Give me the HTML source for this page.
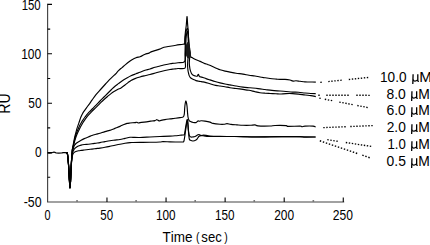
<!DOCTYPE html>
<html><head><meta charset="utf-8"><title>SPR sensorgram</title>
<style>
html,body{margin:0;padding:0;background:#fff;}
body{width:430px;height:245px;overflow:hidden;}
svg{display:block;}
text{font-kerning:none;}
</style></head><body>
<svg width="430" height="245" viewBox="0 0 430 245">
<rect width="430" height="245" fill="#fff"/>
<path d="M47.6,3.7 V202.4 M47.1,202 H344.2" stroke="#444" stroke-width="1.15" fill="none"/>
<path d="M47.6,177.30 H50.20 M47.6,152.60 H52.00 M47.6,127.90 H50.20 M47.6,103.20 H52.00 M47.6,78.50 H50.20 M47.6,53.80 H52.00 M47.6,29.10 H50.20 M47.6,4.40 H52.00 M106.97,202 V197.60 M166.05,202 V197.60 M225.12,202 V197.60 M284.20,202 V197.60 M343.27,202 V197.60" stroke="#000" stroke-width="1.1" fill="none"/>
<path d="M77.04,202 V200.00 M136.11,202 V200.00 M195.19,202 V200.00 M254.26,202 V200.00 M313.34,202 V200.00" stroke="#777" stroke-width="1.6" fill="none"/>
<path d="M47.50,153.00 C47.75,153.02 48.32,153.10 49.00,153.10 C49.68,153.10 50.93,153.13 51.60,153.00 C52.27,152.87 52.43,152.42 53.00,152.30 C53.57,152.18 54.42,152.18 55.00,152.30 C55.58,152.42 55.83,152.87 56.50,153.00 C57.17,153.13 58.18,153.10 59.00,153.10 C59.82,153.10 60.73,153.07 61.40,153.00 C62.07,152.93 62.40,152.75 63.00,152.70 C63.60,152.65 64.40,152.67 65.00,152.70 C65.60,152.73 66.20,152.75 66.60,152.90 C67.00,153.05 67.27,153.48 67.40,153.60" stroke="#000" stroke-width="1.2" fill="none" stroke-linejoin="round"/>
<path d="M66.60,152.90 C66.73,153.02 67.10,151.92 67.40,153.60 C67.70,155.28 68.07,158.60 68.40,163.00 C68.73,167.40 69.13,175.83 69.40,180.00 C69.67,184.17 69.80,188.00 70.00,188.00 C70.20,188.00 70.40,183.67 70.60,180.00 C70.80,176.33 71.00,170.00 71.20,166.00 C71.40,162.00 71.62,158.67 71.80,156.00 C71.98,153.33 72.07,151.83 72.30,150.00 C72.53,148.17 72.88,146.75 73.20,145.00 C73.52,143.25 73.82,141.33 74.20,139.50 C74.58,137.67 75.03,135.87 75.50,134.00 C75.97,132.13 76.43,130.15 77.00,128.30 C77.57,126.45 78.27,124.75 78.90,122.90 C79.53,121.05 80.18,118.78 80.80,117.20 C81.42,115.62 82.05,114.42 82.60,113.40 C83.15,112.38 83.55,111.90 84.10,111.10 C84.65,110.30 85.28,109.45 85.90,108.60 C86.52,107.75 87.20,106.80 87.80,106.00 C88.40,105.20 88.80,104.77 89.50,103.80 C90.20,102.83 90.92,101.73 92.00,100.20 C93.08,98.67 94.50,96.47 96.00,94.60 C97.50,92.73 99.42,90.77 101.00,89.00 C102.58,87.23 104.08,85.57 105.50,84.00 C106.92,82.43 108.25,80.88 109.50,79.60 C110.75,78.32 112.00,77.23 113.00,76.30 C114.00,75.37 114.58,74.95 115.50,74.00 C116.42,73.05 117.42,71.67 118.50,70.60 C119.58,69.53 120.83,68.60 122.00,67.60 C123.17,66.60 124.33,65.57 125.50,64.60 C126.67,63.63 127.92,62.62 129.00,61.80 C130.08,60.98 130.83,60.38 132.00,59.70 C133.17,59.02 134.67,58.20 136.00,57.70 C137.33,57.20 138.92,57.05 140.00,56.70 C141.08,56.35 141.63,56.02 142.50,55.60 C143.37,55.18 144.12,54.62 145.20,54.20 C146.28,53.78 147.92,53.53 149.00,53.10 C150.08,52.67 150.60,52.05 151.70,51.60 C152.80,51.15 154.30,50.82 155.60,50.40 C156.90,49.98 158.10,49.62 159.50,49.10 C160.90,48.58 162.25,47.78 164.00,47.30 C165.75,46.82 168.00,46.55 170.00,46.20 C172.00,45.85 173.83,45.53 176.00,45.20 C178.17,44.87 181.57,44.43 183.00,44.20 C184.43,43.97 184.30,44.75 184.60,43.80 C184.90,42.85 184.67,40.47 184.80,38.50 C184.93,36.53 185.15,34.25 185.40,32.00 C185.65,29.75 186.03,27.58 186.30,25.00 C186.57,22.42 186.78,16.67 187.00,16.50 C187.22,16.33 187.42,21.75 187.60,24.00 C187.78,26.25 187.97,28.00 188.10,30.00 C188.23,32.00 188.28,34.00 188.40,36.00 C188.52,38.00 188.62,39.67 188.80,42.00 C188.98,44.33 189.18,47.60 189.50,50.00 C189.82,52.40 190.28,55.13 190.70,56.40 C191.12,57.67 191.28,57.12 192.00,57.60 C192.72,58.08 193.67,58.67 195.00,59.30 C196.33,59.93 198.50,60.75 200.00,61.40 C201.50,62.05 202.67,62.65 204.00,63.20 C205.33,63.75 206.67,64.18 208.00,64.70 C209.33,65.22 210.62,65.72 212.00,66.30 C213.38,66.88 214.97,67.62 216.30,68.20 C217.63,68.78 218.55,69.32 220.00,69.80 C221.45,70.28 223.33,70.72 225.00,71.10 C226.67,71.48 228.17,71.75 230.00,72.10 C231.83,72.45 233.83,72.87 236.00,73.20 C238.17,73.53 240.83,73.77 243.00,74.10 C245.17,74.43 247.00,74.88 249.00,75.20 C251.00,75.52 253.17,75.70 255.00,76.00 C256.83,76.30 258.28,76.70 260.00,77.00 C261.72,77.30 263.63,77.55 265.30,77.80 C266.97,78.05 268.17,78.28 270.00,78.50 C271.83,78.72 274.63,78.95 276.30,79.10 C277.97,79.25 278.55,79.35 280.00,79.40 C281.45,79.45 283.33,79.30 285.00,79.40 C286.67,79.50 288.67,79.72 290.00,80.00 C291.33,80.28 292.00,80.97 293.00,81.10 C294.00,81.23 294.83,80.77 296.00,80.80 C297.17,80.83 298.50,81.12 300.00,81.30 C301.50,81.48 303.50,81.78 305.00,81.90 C306.50,82.02 307.20,81.97 309.00,82.00 C310.80,82.03 314.67,82.08 315.80,82.10" stroke="#000" stroke-width="1.15" fill="none" stroke-linejoin="round"/>
<path d="M66.60,152.90 C66.73,153.02 67.10,151.92 67.40,153.60 C67.70,155.28 68.07,158.60 68.40,163.00 C68.73,167.40 69.13,175.83 69.40,180.00 C69.67,184.17 69.80,188.00 70.00,188.00 C70.20,188.00 70.40,183.67 70.60,180.00 C70.80,176.33 71.00,170.00 71.20,166.00 C71.40,162.00 71.62,158.67 71.80,156.00 C71.98,153.33 72.03,151.83 72.30,150.00 C72.57,148.17 73.02,146.75 73.40,145.00 C73.78,143.25 74.17,141.25 74.60,139.50 C75.03,137.75 75.52,136.00 76.00,134.50 C76.48,133.00 77.05,131.63 77.50,130.50 C77.95,129.37 78.25,128.68 78.70,127.70 C79.15,126.72 79.73,125.52 80.20,124.60 C80.67,123.68 80.98,123.05 81.50,122.20 C82.02,121.35 82.72,120.37 83.30,119.50 C83.88,118.63 84.53,117.65 85.00,117.00 C85.47,116.35 85.60,116.22 86.10,115.60 C86.60,114.98 87.30,114.07 88.00,113.30 C88.70,112.53 89.52,111.80 90.30,111.00 C91.08,110.20 91.92,109.30 92.70,108.50 C93.48,107.70 94.20,107.02 95.00,106.20 C95.80,105.38 96.67,104.47 97.50,103.60 C98.33,102.73 98.92,102.10 100.00,101.00 C101.08,99.90 102.67,98.33 104.00,97.00 C105.33,95.67 106.75,94.25 108.00,93.00 C109.25,91.75 110.33,90.63 111.50,89.50 C112.67,88.37 113.83,87.18 115.00,86.20 C116.17,85.22 117.33,84.47 118.50,83.60 C119.67,82.73 120.75,81.85 122.00,81.00 C123.25,80.15 124.50,79.38 126.00,78.50 C127.50,77.62 129.33,76.48 131.00,75.70 C132.67,74.92 134.50,74.37 136.00,73.80 C137.50,73.23 138.50,72.88 140.00,72.30 C141.50,71.72 143.33,70.85 145.00,70.30 C146.67,69.75 148.33,69.52 150.00,69.00 C151.67,68.48 153.33,67.70 155.00,67.20 C156.67,66.70 158.33,66.42 160.00,66.00 C161.67,65.58 163.33,65.08 165.00,64.70 C166.67,64.32 168.50,63.93 170.00,63.70 C171.50,63.47 172.67,63.45 174.00,63.30 C175.33,63.15 176.23,63.08 178.00,62.80 C179.77,62.52 183.43,63.07 184.60,61.60 C185.77,60.13 184.90,56.77 185.00,54.00 C185.10,51.23 185.13,47.83 185.20,45.00 C185.27,42.17 185.23,39.33 185.40,37.00 C185.57,34.67 185.90,32.42 186.20,31.00 C186.50,29.58 186.90,28.67 187.20,28.50 C187.50,28.33 187.80,28.75 188.00,30.00 C188.20,31.25 188.25,33.67 188.40,36.00 C188.55,38.33 188.72,41.33 188.90,44.00 C189.08,46.67 189.38,49.67 189.50,52.00 C189.62,54.33 189.63,56.12 189.60,58.00 C189.57,59.88 189.27,61.63 189.30,63.30 C189.33,64.97 189.62,66.77 189.80,68.00 C189.98,69.23 190.13,69.83 190.40,70.70 C190.67,71.57 190.98,72.48 191.40,73.20 C191.82,73.92 192.30,74.55 192.90,75.00 C193.50,75.45 194.28,75.70 195.00,75.90 C195.72,76.10 196.65,76.47 197.20,76.20 C197.75,75.93 197.95,74.28 198.30,74.30 C198.65,74.32 198.93,75.87 199.30,76.30 C199.67,76.73 199.88,76.70 200.50,76.90 C201.12,77.10 202.08,77.22 203.00,77.50 C203.92,77.78 204.83,78.20 206.00,78.60 C207.17,79.00 208.50,79.42 210.00,79.90 C211.50,80.38 213.33,81.00 215.00,81.50 C216.67,82.00 218.33,82.48 220.00,82.90 C221.67,83.32 223.33,83.67 225.00,84.00 C226.67,84.33 228.17,84.57 230.00,84.90 C231.83,85.23 233.83,85.63 236.00,86.00 C238.17,86.37 240.67,86.80 243.00,87.10 C245.33,87.40 247.50,87.55 250.00,87.80 C252.50,88.05 255.50,88.32 258.00,88.60 C260.50,88.88 262.67,89.20 265.00,89.50 C267.33,89.80 269.50,90.15 272.00,90.40 C274.50,90.65 277.67,90.82 280.00,91.00 C282.33,91.18 283.90,91.32 286.00,91.50 C288.10,91.68 290.52,91.97 292.60,92.10 C294.68,92.23 296.43,92.15 298.50,92.30 C300.57,92.45 302.95,92.80 305.00,93.00 C307.05,93.20 309.00,93.38 310.80,93.50 C312.60,93.62 314.97,93.67 315.80,93.70" stroke="#000" stroke-width="1.15" fill="none" stroke-linejoin="round"/>
<path d="M66.60,152.90 C66.73,153.02 67.10,151.92 67.40,153.60 C67.70,155.28 68.07,158.60 68.40,163.00 C68.73,167.40 69.13,175.83 69.40,180.00 C69.67,184.17 69.80,188.00 70.00,188.00 C70.20,188.00 70.40,183.67 70.60,180.00 C70.80,176.33 71.00,170.00 71.20,166.00 C71.40,162.00 71.62,158.67 71.80,156.00 C71.98,153.33 72.00,151.83 72.30,150.00 C72.60,148.17 73.15,146.67 73.60,145.00 C74.05,143.33 74.52,141.58 75.00,140.00 C75.48,138.42 76.00,136.83 76.50,135.50 C77.00,134.17 77.50,133.08 78.00,132.00 C78.50,130.92 79.00,130.00 79.50,129.00 C80.00,128.00 80.47,127.00 81.00,126.00 C81.53,125.00 82.07,124.03 82.70,123.00 C83.33,121.97 83.97,120.98 84.80,119.80 C85.63,118.62 86.58,117.23 87.70,115.90 C88.82,114.57 90.23,113.10 91.50,111.80 C92.77,110.50 94.22,109.17 95.30,108.10 C96.38,107.03 97.13,106.27 98.00,105.40 C98.87,104.53 99.58,103.80 100.50,102.90 C101.42,102.00 102.33,101.07 103.50,100.00 C104.67,98.93 106.25,97.57 107.50,96.50 C108.75,95.43 109.83,94.47 111.00,93.60 C112.17,92.73 113.33,92.02 114.50,91.30 C115.67,90.58 116.92,89.87 118.00,89.30 C119.08,88.73 119.83,88.62 121.00,87.90 C122.17,87.18 123.83,85.88 125.00,85.00 C126.17,84.12 127.00,83.37 128.00,82.60 C129.00,81.83 129.83,81.07 131.00,80.40 C132.17,79.73 133.50,79.17 135.00,78.60 C136.50,78.03 138.33,77.48 140.00,77.00 C141.67,76.52 143.33,76.12 145.00,75.70 C146.67,75.28 148.00,75.03 150.00,74.50 C152.00,73.97 154.50,73.17 157.00,72.50 C159.50,71.83 162.83,71.00 165.00,70.50 C167.17,70.00 168.50,69.75 170.00,69.50 C171.50,69.25 172.67,69.17 174.00,69.00 C175.33,68.83 176.17,68.65 178.00,68.50 C179.83,68.35 183.78,69.18 185.00,68.10 C186.22,67.02 185.20,64.68 185.30,62.00 C185.40,59.32 185.52,55.00 185.60,52.00 C185.68,49.00 185.68,46.67 185.80,44.00 C185.92,41.33 186.07,38.08 186.30,36.00 C186.53,33.92 186.93,32.00 187.20,31.50 C187.47,31.00 187.73,31.58 187.90,33.00 C188.07,34.42 188.12,37.50 188.20,40.00 C188.28,42.50 188.40,45.33 188.40,48.00 C188.40,50.67 188.32,53.67 188.20,56.00 C188.08,58.33 187.80,60.33 187.70,62.00 C187.60,63.67 187.55,64.55 187.60,66.00 C187.65,67.45 187.83,69.45 188.00,70.70 C188.17,71.95 188.40,72.68 188.60,73.50 C188.80,74.32 188.93,74.95 189.20,75.60 C189.47,76.25 189.80,76.90 190.20,77.40 C190.60,77.90 191.05,78.23 191.60,78.60 C192.15,78.97 192.77,79.27 193.50,79.60 C194.23,79.93 195.17,80.33 196.00,80.60 C196.83,80.87 197.75,81.05 198.50,81.20 C199.25,81.35 199.75,81.38 200.50,81.50 C201.25,81.62 202.08,81.72 203.00,81.90 C203.92,82.08 204.83,82.30 206.00,82.60 C207.17,82.90 208.83,83.33 210.00,83.70 C211.17,84.07 212.00,84.52 213.00,84.80 C214.00,85.08 214.83,85.20 216.00,85.40 C217.17,85.60 218.50,85.77 220.00,86.00 C221.50,86.23 223.33,86.52 225.00,86.80 C226.67,87.08 228.17,87.42 230.00,87.70 C231.83,87.98 233.83,88.22 236.00,88.50 C238.17,88.78 240.83,89.10 243.00,89.40 C245.17,89.70 247.00,89.92 249.00,90.30 C251.00,90.68 253.17,91.30 255.00,91.70 C256.83,92.10 258.33,92.45 260.00,92.70 C261.67,92.95 263.33,93.07 265.00,93.20 C266.67,93.33 268.17,93.40 270.00,93.50 C271.83,93.60 274.33,93.72 276.00,93.80 C277.67,93.88 278.33,94.03 280.00,94.00 C281.67,93.97 283.90,93.67 286.00,93.60 C288.10,93.53 290.52,93.52 292.60,93.60 C294.68,93.68 296.40,93.87 298.50,94.10 C300.60,94.33 303.15,94.75 305.20,95.00 C307.25,95.25 309.03,95.33 310.80,95.60 C312.57,95.87 314.97,96.43 315.80,96.60" stroke="#000" stroke-width="1.15" fill="none" stroke-linejoin="round"/>
<path d="M66.60,152.90 C66.73,153.02 67.10,151.92 67.40,153.60 C67.70,155.28 68.07,158.60 68.40,163.00 C68.73,167.40 69.13,175.83 69.40,180.00 C69.67,184.17 69.80,188.00 70.00,188.00 C70.20,188.00 70.43,183.00 70.60,180.00 C70.77,177.00 70.80,173.67 71.00,170.00 C71.20,166.33 71.53,161.00 71.80,158.00 C72.07,155.00 72.32,153.67 72.60,152.00 C72.88,150.33 73.18,149.12 73.50,148.00 C73.82,146.88 74.08,146.05 74.50,145.30 C74.92,144.55 75.45,144.02 76.00,143.50 C76.55,142.98 76.95,142.75 77.80,142.20 C78.65,141.65 80.02,140.80 81.10,140.20 C82.18,139.60 83.08,139.13 84.30,138.60 C85.52,138.07 87.12,137.52 88.40,137.00 C89.68,136.48 90.73,135.95 92.00,135.50 C93.27,135.05 94.67,134.68 96.00,134.30 C97.33,133.92 98.50,133.65 100.00,133.20 C101.50,132.75 103.17,132.13 105.00,131.60 C106.83,131.07 109.33,130.53 111.00,130.00 C112.67,129.47 113.50,129.00 115.00,128.40 C116.50,127.80 118.50,127.05 120.00,126.40 C121.50,125.75 122.83,125.00 124.00,124.50 C125.17,124.00 126.00,123.65 127.00,123.40 C128.00,123.15 128.67,123.13 130.00,123.00 C131.33,122.87 133.83,122.72 135.00,122.60 C136.17,122.48 136.42,122.23 137.00,122.30 C137.58,122.37 138.00,122.95 138.50,123.00 C139.00,123.05 138.42,122.83 140.00,122.60 C141.58,122.37 146.00,121.87 148.00,121.60 C150.00,121.33 150.83,121.17 152.00,121.00 C153.17,120.83 154.17,120.82 155.00,120.60 C155.83,120.38 156.33,119.65 157.00,119.70 C157.67,119.75 158.33,120.78 159.00,120.90 C159.67,121.02 160.00,120.62 161.00,120.40 C162.00,120.18 163.50,119.85 165.00,119.60 C166.50,119.35 168.33,119.12 170.00,118.90 C171.67,118.68 173.33,118.52 175.00,118.30 C176.67,118.08 178.62,117.83 180.00,117.60 C181.38,117.37 182.58,117.50 183.30,116.90 C184.02,116.30 184.07,115.48 184.30,114.00 C184.53,112.52 184.55,109.75 184.70,108.00 C184.85,106.25 185.02,104.67 185.20,103.50 C185.38,102.33 185.60,101.17 185.80,101.00 C186.00,100.83 186.20,101.67 186.40,102.50 C186.60,103.33 186.82,104.42 187.00,106.00 C187.18,107.58 187.33,110.17 187.50,112.00 C187.67,113.83 187.75,115.60 188.00,117.00 C188.25,118.40 188.58,119.65 189.00,120.40 C189.42,121.15 189.78,121.15 190.50,121.50 C191.22,121.85 192.38,122.32 193.30,122.50 C194.22,122.68 195.35,122.75 196.00,122.60 C196.65,122.45 196.85,121.88 197.20,121.60 C197.55,121.32 197.75,120.97 198.10,120.90 C198.45,120.83 198.77,121.22 199.30,121.20 C199.83,121.18 200.35,120.82 201.30,120.80 C202.25,120.78 203.55,120.88 205.00,121.10 C206.45,121.32 208.67,121.72 210.00,122.10 C211.33,122.48 211.33,123.03 213.00,123.40 C214.67,123.77 218.17,124.15 220.00,124.30 C221.83,124.45 222.83,124.42 224.00,124.30 C225.17,124.18 225.83,123.58 227.00,123.60 C228.17,123.62 229.33,124.18 231.00,124.40 C232.67,124.62 235.00,124.75 237.00,124.90 C239.00,125.05 240.83,125.23 243.00,125.30 C245.17,125.37 248.00,125.37 250.00,125.30 C252.00,125.23 253.67,124.80 255.00,124.90 C256.33,125.00 255.50,125.72 258.00,125.90 C260.50,126.08 267.17,126.07 270.00,126.00 C272.83,125.93 272.33,125.57 275.00,125.50 C277.67,125.43 283.83,125.45 286.00,125.60 C288.17,125.75 285.67,126.32 288.00,126.40 C290.33,126.48 297.67,126.05 300.00,126.10 C302.33,126.15 301.17,126.70 302.00,126.70 C302.83,126.70 303.17,126.20 305.00,126.10 C306.83,126.00 311.23,125.95 313.00,126.10 C314.77,126.25 315.17,126.85 315.60,127.00" stroke="#000" stroke-width="1.15" fill="none" stroke-linejoin="round"/>
<path d="M66.60,152.90 C66.73,153.02 67.10,151.92 67.40,153.60 C67.70,155.28 68.07,158.60 68.40,163.00 C68.73,167.40 69.13,175.83 69.40,180.00 C69.67,184.17 69.80,188.00 70.00,188.00 C70.20,188.00 70.43,183.00 70.60,180.00 C70.77,177.00 70.80,173.67 71.00,170.00 C71.20,166.33 71.53,160.92 71.80,158.00 C72.07,155.08 72.30,153.78 72.60,152.50 C72.90,151.22 73.22,150.98 73.60,150.30 C73.98,149.62 74.20,149.07 74.90,148.40 C75.60,147.73 76.77,146.85 77.80,146.30 C78.83,145.75 80.02,145.40 81.10,145.10 C82.18,144.80 83.08,144.65 84.30,144.50 C85.52,144.35 87.12,144.32 88.40,144.20 C89.68,144.08 90.73,143.97 92.00,143.80 C93.27,143.63 94.67,143.40 96.00,143.20 C97.33,143.00 98.50,142.87 100.00,142.60 C101.50,142.33 103.33,141.92 105.00,141.60 C106.67,141.28 108.33,140.95 110.00,140.70 C111.67,140.45 113.33,140.30 115.00,140.10 C116.67,139.90 118.33,139.78 120.00,139.50 C121.67,139.22 123.33,138.77 125.00,138.40 C126.67,138.03 128.67,137.47 130.00,137.30 C131.33,137.13 131.33,137.37 133.00,137.40 C134.67,137.43 137.17,137.57 140.00,137.50 C142.83,137.43 146.67,137.17 150.00,137.00 C153.33,136.83 156.67,136.65 160.00,136.50 C163.33,136.35 167.50,136.22 170.00,136.10 C172.50,135.98 173.33,135.93 175.00,135.80 C176.67,135.67 178.67,135.43 180.00,135.30 C181.33,135.17 182.27,135.15 183.00,135.00 C183.73,134.85 184.03,135.23 184.40,134.40 C184.77,133.57 184.90,131.73 185.20,130.00 C185.50,128.27 185.87,125.75 186.20,124.00 C186.53,122.25 186.93,119.75 187.20,119.50 C187.47,119.25 187.60,120.75 187.80,122.50 C188.00,124.25 188.15,127.83 188.40,130.00 C188.65,132.17 188.87,134.33 189.30,135.50 C189.73,136.67 190.38,136.77 191.00,137.00 C191.62,137.23 192.33,136.98 193.00,136.90 C193.67,136.82 194.25,136.82 195.00,136.50 C195.75,136.18 196.83,135.33 197.50,135.00 C198.17,134.67 198.42,134.42 199.00,134.50 C199.58,134.58 200.33,135.38 201.00,135.50 C201.67,135.62 202.17,135.22 203.00,135.20 C203.83,135.18 204.83,135.25 206.00,135.40 C207.17,135.55 207.67,135.93 210.00,136.10 C212.33,136.27 216.00,136.33 220.00,136.40 C224.00,136.47 230.17,136.47 234.00,136.50 C237.83,136.53 239.50,136.52 243.00,136.60 C246.50,136.68 250.50,136.97 255.00,137.00 C259.50,137.03 264.83,136.87 270.00,136.80 C275.17,136.73 281.00,136.63 286.00,136.60 C291.00,136.57 296.83,136.52 300.00,136.60 C303.17,136.68 302.40,137.03 305.00,137.10 C307.60,137.17 313.83,137.02 315.60,137.00" stroke="#000" stroke-width="1.15" fill="none" stroke-linejoin="round"/>
<path d="M66.60,152.90 C66.73,153.02 67.10,151.92 67.40,153.60 C67.70,155.28 68.07,158.60 68.40,163.00 C68.73,167.40 69.13,175.83 69.40,180.00 C69.67,184.17 69.80,188.00 70.00,188.00 C70.20,188.00 70.43,183.00 70.60,180.00 C70.77,177.00 70.80,173.33 71.00,170.00 C71.20,166.67 71.53,162.50 71.80,160.00 C72.07,157.50 72.23,156.23 72.60,155.00 C72.97,153.77 73.55,153.15 74.00,152.60 C74.45,152.05 74.53,152.00 75.30,151.70 C76.07,151.40 77.63,151.02 78.60,150.80 C79.57,150.58 80.15,150.53 81.10,150.40 C82.05,150.27 83.08,150.15 84.30,150.00 C85.52,149.85 87.12,149.65 88.40,149.50 C89.68,149.35 90.73,149.25 92.00,149.10 C93.27,148.95 94.67,148.77 96.00,148.60 C97.33,148.43 98.50,148.32 100.00,148.10 C101.50,147.88 103.33,147.60 105.00,147.30 C106.67,147.00 108.33,146.65 110.00,146.30 C111.67,145.95 113.33,145.55 115.00,145.20 C116.67,144.85 118.33,144.52 120.00,144.20 C121.67,143.88 123.33,143.57 125.00,143.30 C126.67,143.03 128.67,142.73 130.00,142.60 C131.33,142.47 131.33,142.53 133.00,142.50 C134.67,142.47 137.17,142.43 140.00,142.40 C142.83,142.37 146.67,142.37 150.00,142.30 C153.33,142.23 157.83,142.12 160.00,142.00 C162.17,141.88 161.33,141.62 163.00,141.60 C164.67,141.58 167.83,141.83 170.00,141.90 C172.17,141.97 174.00,141.98 176.00,142.00 C178.00,142.02 180.72,142.07 182.00,142.00 C183.28,141.93 183.28,142.27 183.70,141.60 C184.12,140.93 184.22,139.60 184.50,138.00 C184.78,136.40 185.08,134.17 185.40,132.00 C185.72,129.83 186.07,126.92 186.40,125.00 C186.73,123.08 187.15,120.67 187.40,120.50 C187.65,120.33 187.72,122.08 187.90,124.00 C188.08,125.92 188.27,129.50 188.50,132.00 C188.73,134.50 188.97,137.62 189.30,139.00 C189.63,140.38 189.88,139.97 190.50,140.30 C191.12,140.63 192.08,141.05 193.00,141.00 C193.92,140.95 195.25,140.42 196.00,140.00 C196.75,139.58 197.00,139.12 197.50,138.50 C198.00,137.88 198.42,136.78 199.00,136.30 C199.58,135.82 200.17,135.67 201.00,135.60 C201.83,135.53 202.83,135.75 204.00,135.90 C205.17,136.05 206.67,136.40 208.00,136.50 C209.33,136.60 210.00,136.50 212.00,136.50 C214.00,136.50 216.33,136.50 220.00,136.50 C223.67,136.50 228.17,136.43 234.00,136.50 C239.83,136.57 246.83,136.87 255.00,136.90 C263.17,136.93 272.90,136.68 283.00,136.70 C293.10,136.72 310.17,136.95 315.60,137.00" stroke="#000" stroke-width="1.15" fill="none" stroke-linejoin="round"/>
<path d="M185.9,45 L187.4,42 L189.0,43 L190.2,48 L191.0,53 L190.8,57.5 L189.2,58.5 L187.3,58 L186.1,55.5 L185.8,49 Z" fill="#1a1a1a"/>
<path d="M320.30,82.37 L321.70,82.23 M328.30,81.55 L329.70,81.41 M331.30,81.25 L332.70,81.11 M334.30,80.94 L335.70,80.80 M337.30,80.64 L338.70,80.49 M340.30,80.33 L341.70,80.19 M348.80,79.46 L350.20,79.32 M351.80,79.15 L353.20,79.01 M354.80,78.85 L356.20,78.71 M357.80,78.54 L359.20,78.40 M360.80,78.24 L362.20,78.09 M363.80,77.93 L365.20,77.79 M366.80,77.62 L368.20,77.48 M318.30,95.20 L319.70,95.20 M326.30,95.21 L327.70,95.22 M329.30,95.22 L330.70,95.22 M332.30,95.23 L333.70,95.23 M335.30,95.23 L336.70,95.23 M338.30,95.24 L339.70,95.24 M341.30,95.24 L342.70,95.25 M344.30,95.25 L345.70,95.25 M347.30,95.26 L348.70,95.26 M356.30,95.27 L357.70,95.28 M359.30,95.28 L360.70,95.28 M362.30,95.28 L363.70,95.29 M365.30,95.29 L366.70,95.29 M368.30,95.30 L369.70,95.30 M319.30,98.16 L320.70,98.44 M324.80,99.23 L326.20,99.50 M327.80,99.81 L329.20,100.08 M330.80,100.39 L332.20,100.66 M339.30,102.04 L340.70,102.31 M342.30,102.62 L343.70,102.89 M345.30,103.20 L346.70,103.47 M348.30,103.78 L349.70,104.05 M351.30,104.36 L352.70,104.63 M357.30,105.52 L358.70,105.80 M360.30,106.11 L361.70,106.38 M363.30,106.69 L364.70,106.96 M366.30,107.27 L367.70,107.54 M323.30,127.63 L324.70,127.57 M326.30,127.51 L327.70,127.45 M329.30,127.38 L330.70,127.33 M332.30,127.26 L333.70,127.20 M335.30,127.14 L336.70,127.08 M338.30,127.02 L339.70,126.96 M341.30,126.89 L342.70,126.84 M344.30,126.77 L345.70,126.71 M350.30,126.53 L351.70,126.47 M353.30,126.40 L354.70,126.35 M356.30,126.28 L357.70,126.22 M359.30,126.16 L360.70,126.10 M362.30,126.04 L363.70,125.98 M365.30,125.91 L366.70,125.86 M368.30,125.79 L369.70,125.73 M371.30,125.67 L372.70,125.61 M327.30,139.69 L328.70,139.91 M330.30,140.15 L331.70,140.37 M333.30,140.61 L334.70,140.82 M336.30,141.07 L337.70,141.28 M345.80,142.52 L347.20,142.74 M348.80,142.98 L350.20,143.20 M351.80,143.44 L353.20,143.65 M354.80,143.90 L356.20,144.11 M357.80,144.36 L359.20,144.57 M360.80,144.82 L362.20,145.03 M363.80,145.28 L365.20,145.49 M366.80,145.73 L368.20,145.95 M369.80,146.19 L371.20,146.41 M319.80,140.76 L321.20,141.24 M322.80,141.78 L324.20,142.26 M325.80,142.80 L327.20,143.28 M328.80,143.82 L330.20,144.30 M331.80,144.84 L333.20,145.32 M334.80,145.86 L336.20,146.34 M337.80,146.89 L339.20,147.36 M340.80,147.91 L342.20,148.38 M343.80,148.93 L345.20,149.40 M346.80,149.95 L348.20,150.42 M349.80,150.97 L351.20,151.44 M352.80,151.99 L354.20,152.46 M355.80,153.01 L357.20,153.49 M362.30,155.22 L363.70,155.70 M365.30,156.24 L366.70,156.72 M368.30,157.26 L369.70,157.74" stroke="#000" stroke-width="1.35" fill="none"/>
<text transform="translate(21.63,9.70) scale(0.8258,1)" font-size="13.80" letter-spacing="0.00" font-family="Liberation Sans, sans-serif" fill="#000" >150</text>
<text transform="translate(21.19,58.80) scale(0.8678,1)" font-size="13.80" letter-spacing="0.00" font-family="Liberation Sans, sans-serif" fill="#000" >100</text>
<text transform="translate(28.32,108.20) scale(0.8627,1)" font-size="13.80" letter-spacing="0.00" font-family="Liberation Sans, sans-serif" fill="#000" >50</text>
<text transform="translate(34.93,157.20) scale(0.8641,1)" font-size="13.80" letter-spacing="0.00" font-family="Liberation Sans, sans-serif" fill="#000" >0</text>
<text transform="translate(23.65,206.50) scale(0.8993,1)" font-size="13.80" letter-spacing="0.00" font-family="Liberation Sans, sans-serif" fill="#000" >-50</text>
<text transform="translate(44.48,219.60) scale(0.7883,1)" font-size="13.80" letter-spacing="0.00" font-family="Liberation Sans, sans-serif" fill="#000" >0</text>
<text transform="translate(100.34,219.60) scale(0.8346,1)" font-size="13.80" letter-spacing="0.00" font-family="Liberation Sans, sans-serif" fill="#000" >50</text>
<text transform="translate(156.00,219.60) scale(0.8538,1)" font-size="13.80" letter-spacing="0.00" font-family="Liberation Sans, sans-serif" fill="#000" >100</text>
<text transform="translate(214.91,219.60) scale(0.8491,1)" font-size="13.80" letter-spacing="0.00" font-family="Liberation Sans, sans-serif" fill="#000" >150</text>
<text transform="translate(274.20,219.60) scale(0.8673,1)" font-size="13.80" letter-spacing="0.00" font-family="Liberation Sans, sans-serif" fill="#000" >200</text>
<text transform="translate(332.69,219.60) scale(0.8765,1)" font-size="13.80" letter-spacing="0.00" font-family="Liberation Sans, sans-serif" fill="#000" >250</text>
<text transform="translate(162.40,241.50) scale(0.9644,1)" font-size="14.00" letter-spacing="0.00" font-family="Liberation Sans, sans-serif" fill="#000" >Time</text>
<text transform="translate(196.07,241.0) scale(0.85,1)" font-size="12.3" font-family="Liberation Sans, sans-serif" fill="#000">(</text>
<text transform="translate(201.33,241.50) scale(0.9369,1)" font-size="14.00" letter-spacing="0.00" font-family="Liberation Sans, sans-serif" fill="#000" >sec</text>
<text transform="translate(224.25,241.0) scale(0.85,1)" font-size="12.3" font-family="Liberation Sans, sans-serif" fill="#000">)</text>
<g transform="translate(10.4,0) rotate(-90)"><text transform="translate(-113.66,0.00) scale(0.9078,1)" font-size="15.60" letter-spacing="0.00" font-family="Liberation Sans, sans-serif" fill="#000" >RU</text></g>
<text transform="translate(380.06,81.50) scale(0.8947,1)" font-size="15.20" letter-spacing="0.00" font-family="Liberation Sans, sans-serif" fill="#000" >10.0</text>
<path d="M413.10,74.20 L412.80,83.90 M413.10,79.70 C413.50,81.40 415.70,81.70 417.60,79.90 M417.80,74.20 L417.80,80.60 Q417.90,81.60 418.80,81.20" stroke="#000" stroke-width="1.3" fill="none"/>
<text transform="translate(419.25,81.50) scale(1.0032,1)" font-size="15.20" letter-spacing="0.00" font-family="Liberation Sans, sans-serif" fill="#000" >M</text>
<text transform="translate(386.50,98.50) scale(0.9157,1)" font-size="15.20" letter-spacing="0.00" font-family="Liberation Sans, sans-serif" fill="#000" >8.0</text>
<path d="M411.95,91.20 L411.65,100.90 M411.95,96.70 C412.35,98.40 414.55,98.70 416.45,96.90 M416.65,91.20 L416.65,97.60 Q416.75,98.60 417.65,98.20" stroke="#000" stroke-width="1.3" fill="none"/>
<text transform="translate(418.26,98.50) scale(0.9146,1)" font-size="15.20" letter-spacing="0.00" font-family="Liberation Sans, sans-serif" fill="#000" >M</text>
<text transform="translate(386.39,114.50) scale(0.9208,1)" font-size="15.20" letter-spacing="0.00" font-family="Liberation Sans, sans-serif" fill="#000" >6.0</text>
<path d="M411.95,107.20 L411.65,116.90 M411.95,112.70 C412.35,114.40 414.55,114.70 416.45,112.90 M416.65,107.20 L416.65,113.60 Q416.75,114.60 417.65,114.20" stroke="#000" stroke-width="1.3" fill="none"/>
<text transform="translate(418.26,114.50) scale(0.9146,1)" font-size="15.20" letter-spacing="0.00" font-family="Liberation Sans, sans-serif" fill="#000" >M</text>
<text transform="translate(386.71,131.60) scale(0.9053,1)" font-size="15.20" letter-spacing="0.00" font-family="Liberation Sans, sans-serif" fill="#000" >2.0</text>
<path d="M411.95,124.30 L411.65,134.00 M411.95,129.80 C412.35,131.50 414.55,131.80 416.45,130.00 M416.65,124.30 L416.65,130.70 Q416.75,131.70 417.65,131.30" stroke="#000" stroke-width="1.3" fill="none"/>
<text transform="translate(418.26,131.60) scale(0.9146,1)" font-size="15.20" letter-spacing="0.00" font-family="Liberation Sans, sans-serif" fill="#000" >M</text>
<text transform="translate(387.50,148.50) scale(0.8669,1)" font-size="15.20" letter-spacing="0.00" font-family="Liberation Sans, sans-serif" fill="#000" >1.0</text>
<path d="M411.95,141.20 L411.65,150.90 M411.95,146.70 C412.35,148.40 414.55,148.70 416.45,146.90 M416.65,141.20 L416.65,147.60 Q416.75,148.60 417.65,148.20" stroke="#000" stroke-width="1.3" fill="none"/>
<text transform="translate(418.26,148.50) scale(0.9146,1)" font-size="15.20" letter-spacing="0.00" font-family="Liberation Sans, sans-serif" fill="#000" >M</text>
<text transform="translate(386.56,165.50) scale(0.9147,1)" font-size="15.20" letter-spacing="0.00" font-family="Liberation Sans, sans-serif" fill="#000" >0.5</text>
<path d="M411.95,158.20 L411.65,167.90 M411.95,163.70 C412.35,165.40 414.55,165.70 416.45,163.90 M416.65,158.20 L416.65,164.60 Q416.75,165.60 417.65,165.20" stroke="#000" stroke-width="1.3" fill="none"/>
<text transform="translate(418.26,165.50) scale(0.9146,1)" font-size="15.20" letter-spacing="0.00" font-family="Liberation Sans, sans-serif" fill="#000" >M</text>
</svg>
</body></html>
